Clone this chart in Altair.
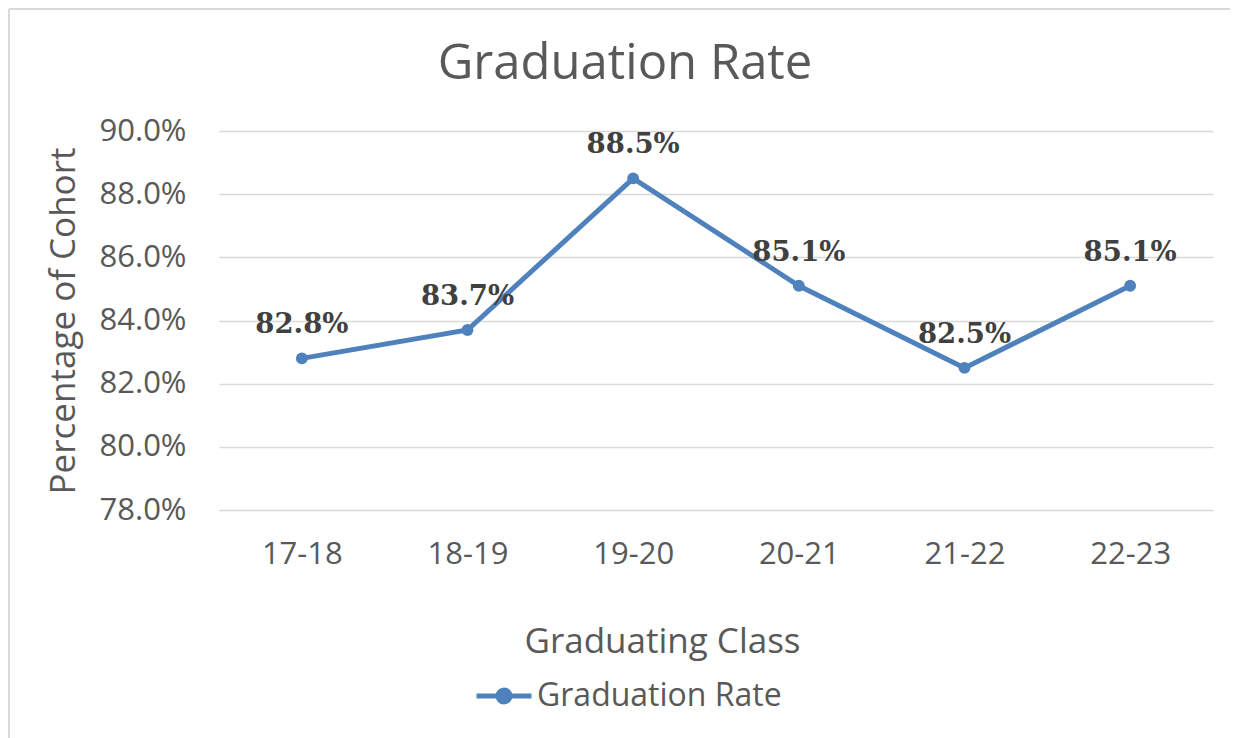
import altair as alt
import pandas as pd

classes = ["17-18", "18-19", "19-20", "20-21", "21-22", "22-23"]
rates = [0.828, 0.837, 0.885, 0.851, 0.825, 0.851]
y_ticks = [0.78, 0.80, 0.82, 0.84, 0.86, 0.88, 0.90]
series_name = "Graduation Rate"
chart_title = "Graduation Rate"

df = pd.DataFrame({"cls": classes, "rate": rates, "series": [series_name] * len(classes)})

BLUE = "#4f81bd"
GRAY = "#595959"
W, H = 994, 379

x_enc = alt.X("cls:N", sort=classes,
              axis=alt.Axis(title="Graduating Class", labelAngle=0, ticks=False, domain=False,
                            labelFontSize=31, labelColor=GRAY, labelFont="Open Sans",
                            labelPadding=29, titleFontSize=35, titleFont="Open Sans",
                            titleColor=GRAY, titleFontWeight="normal",
                            titleX=443, titleY=142, titleBaseline="alphabetic", titleAlign="center",
                            grid=False))
y_enc = alt.Y("rate:Q", scale=alt.Scale(domain=[0.78, 0.90], zero=False, nice=False),
              axis=alt.Axis(title="Percentage of Cohort", values=y_ticks, format=".1%",
                            ticks=False, domain=False, labelFontSize=31, labelColor=GRAY,
                            labelFont="Open Sans", labelPadding=33, titleFontSize=35,
                            titleFont="Open Sans", titleColor=GRAY, titleFontWeight="normal",
                            titlePadding=18, grid=True, gridColor="#d9d9d9", gridWidth=1.5))

color_enc = alt.Color("series:N", scale=alt.Scale(range=[BLUE]),
                      legend=alt.Legend(title=None, orient="none", legendX=255, legendY=535,
                                        labelFontSize=32, labelColor=GRAY, labelFont="Open Sans",
                                        labelLimit=0,
                                        symbolType="M-1,0L1,0M-0.22,0A0.22,0.22 0 1,0 0.22,0A0.22,0.22 0 1,0 -0.22,0",
                                        symbolSize=3025, symbolStrokeWidth=5,
                                        symbolFillColor=BLUE, symbolStrokeColor=BLUE,
                                        labelOffset=3))

base = alt.Chart(df)
line = base.mark_line(strokeWidth=5).encode(x=x_enc, y=y_enc, color=color_enc)
pts = base.mark_circle(size=140, opacity=1, color=BLUE).encode(x="cls:N", y="rate:Q")
labels = base.mark_text(dy=-25, baseline="alphabetic", font="DejaVu Serif", fontWeight="bold",
                        fontSize=27.5, color="#404040").encode(
    x="cls:N", y="rate:Q", text=alt.Text("rate:Q", format=".1%"))

title = alt.Chart(pd.DataFrame({"t": [chart_title]})).mark_text(
    fontSize=49, font="Open Sans", color=GRAY, baseline="alphabetic", align="center").encode(
    text="t:N", x=alt.value(406), y=alt.value(-52))

border_left = alt.Chart(df).mark_rule(color="#d9d9d9", strokeWidth=2).encode(
    x=alt.value(-210), y=alt.value(-122), y2=alt.value(H + 230))
border_top = alt.Chart(df).mark_rule(color="#d9d9d9", strokeWidth=2).encode(
    x=alt.value(-210), x2=alt.value(W + 30), y=alt.value(-122))

chart = alt.layer(border_left, border_top, line, pts, labels, title).properties(
    width=W, height=H,
    autosize=alt.AutoSizeParams(type="none"),
    padding={"left": 211, "top": 123, "right": 17, "bottom": 228},
).configure(background="white", view=alt.ViewConfig(stroke=None))

chart.save("out.html", embed_options={"renderer": "svg", "actions": False})
